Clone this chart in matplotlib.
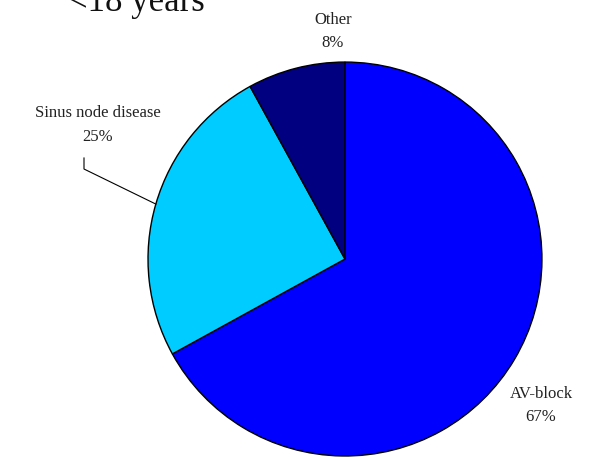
import numpy as np
import matplotlib.pyplot as plt

labels = ['AV-block', 'Sinus node disease', 'Other']
values = [67, 25, 8]
colors = ['#0000FF', '#00CCFF', '#000080']

plt.rcParams['font.family'] = ['Liberation Serif', 'DejaVu Serif']

fig = plt.figure(figsize=(6.08, 4.57), dpi=100)
ax = fig.add_axes([0.2434, 0.0022, 0.648, 0.862])

wedges, _ = ax.pie(values, colors=colors, startangle=90, counterclock=False,
                   wedgeprops=dict(edgecolor='black', linewidth=1.0), radius=1)
ax.set_xlim(-1, 1)
ax.set_ylim(-1, 1)
ax.set_aspect('equal')
ax.axis('off')

# label positions (data units, radius = 1)
pos = [(0.995, -0.745), (-1.254, 0.68), (-0.061, 1.155)]
for lab, v, (x, y) in zip(labels, values, pos):
    ax.text(x, y, f'{lab}\n{v}%', ha='center', va='center', fontsize=12,
            color='#222222', linespacing=1.6, clip_on=False)

# leader line for the sinus node slice
w = wedges[1]
mid = np.deg2rad((w.theta1 + w.theta2) / 2)
ex, ey = np.cos(mid), np.sin(mid)
ax.plot([-1.325, -1.325, ex], [0.513, 0.457, ey], color='black', lw=0.8,
        clip_on=False)

fig.text(0.225, 0.976, '<18 years', ha='center', va='baseline', fontsize=25,
         color='#111111')

fig.savefig('out.png', dpi=100)
